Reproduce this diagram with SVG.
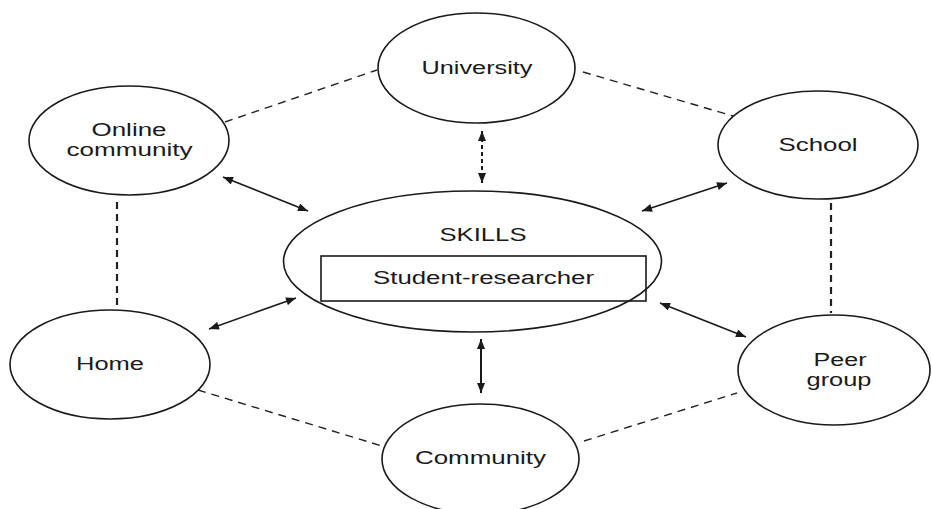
<svg xmlns="http://www.w3.org/2000/svg" width="932" height="509" viewBox="0 0 932 509">
<defs>
<style>
.node{fill:none;stroke:#1a1a1a;stroke-width:1.6}
.lbl{font-family:"Liberation Sans",Arial,Helvetica,sans-serif;font-size:18px;fill:#1a1a1a;text-anchor:middle}
.dash{fill:none;stroke:#222;stroke-width:1.4;stroke-dasharray:8,6}
.vdash{fill:none;stroke:#222;stroke-width:2.2;stroke-dasharray:7,5}
.arr{fill:none;stroke:#1a1a1a;stroke-width:1.6;marker-start:url(#ah);marker-end:url(#ah)}
</style>
<marker id="ah" viewBox="0 0 10 8" refX="10" refY="4" markerWidth="11" markerHeight="8" markerUnits="userSpaceOnUse" orient="auto-start-reverse">
<path d="M0,0 L10,4 L0,8 z" fill="#1a1a1a"/>
</marker>
</defs>
<rect width="932" height="509" fill="#ffffff"/>
<g id="connectors">
<line class="dash" x1="225" y1="122" x2="377" y2="70"/>
<line class="dash" x1="583" y1="72" x2="733" y2="116"/>
<line class="vdash" x1="117" y1="202" x2="117" y2="310"/>
<line class="vdash" x1="831" y1="203" x2="831" y2="313"/>
<line class="dash" x1="198" y1="390" x2="382" y2="446"/>
<line class="dash" x1="584" y1="441" x2="737" y2="393"/>
<line class="arr" x1="223" y1="177" x2="308" y2="211"/>
<line class="arr" x1="642" y1="211" x2="727" y2="183"/>
<line class="arr" x1="209" y1="329" x2="296" y2="298"/>
<line class="arr" x1="660" y1="303" x2="746" y2="337"/>
<line class="arr" x1="482" y1="131" x2="482" y2="183" style="stroke-width:2;stroke-dasharray:4,3"/>
<line class="arr" x1="481" y1="339" x2="481" y2="393" style="stroke-width:2"/>
</g>
<g id="skills">
<ellipse class="node" cx="472.5" cy="261.5" rx="189" ry="70.5"/>
<text class="lbl" x="483" y="241" textLength="87" lengthAdjust="spacingAndGlyphs">SKILLS</text>
<rect x="321" y="256" width="325" height="45" fill="none" stroke="#1a1a1a" stroke-width="1.6"/>
<text class="lbl" x="483.5" y="284" textLength="221" lengthAdjust="spacingAndGlyphs">Student-researcher</text>
</g>
<g id="university">
<ellipse class="node" cx="476.5" cy="68" rx="98.5" ry="55"/>
<text class="lbl" x="477" y="74" textLength="111" lengthAdjust="spacingAndGlyphs">University</text>
</g>
<g id="online-community">
<ellipse class="node" cx="129" cy="140.5" rx="100" ry="54.5"/>
<text class="lbl" x="129" y="136" textLength="75" lengthAdjust="spacingAndGlyphs">Online</text>
<text class="lbl" x="129.5" y="156" textLength="126" lengthAdjust="spacingAndGlyphs">community</text>
</g>
<g id="school">
<ellipse class="node" cx="818" cy="145" rx="100" ry="54"/>
<text class="lbl" x="818" y="151" textLength="79" lengthAdjust="spacingAndGlyphs">School</text>
</g>
<g id="home">
<ellipse class="node" cx="110" cy="364.5" rx="100" ry="54.5"/>
<text class="lbl" x="110" y="370" textLength="68" lengthAdjust="spacingAndGlyphs">Home</text>
</g>
<g id="peer-group">
<ellipse class="node" cx="834" cy="370" rx="96" ry="55"/>
<text class="lbl" x="840" y="366" textLength="53" lengthAdjust="spacingAndGlyphs">Peer</text>
<text class="lbl" x="839" y="386" textLength="65" lengthAdjust="spacingAndGlyphs">group</text>
</g>
<g id="community">
<ellipse class="node" cx="480.5" cy="459" rx="98.5" ry="55"/>
<text class="lbl" x="480.5" y="464" textLength="131" lengthAdjust="spacingAndGlyphs">Community</text>
</g>
</svg>
